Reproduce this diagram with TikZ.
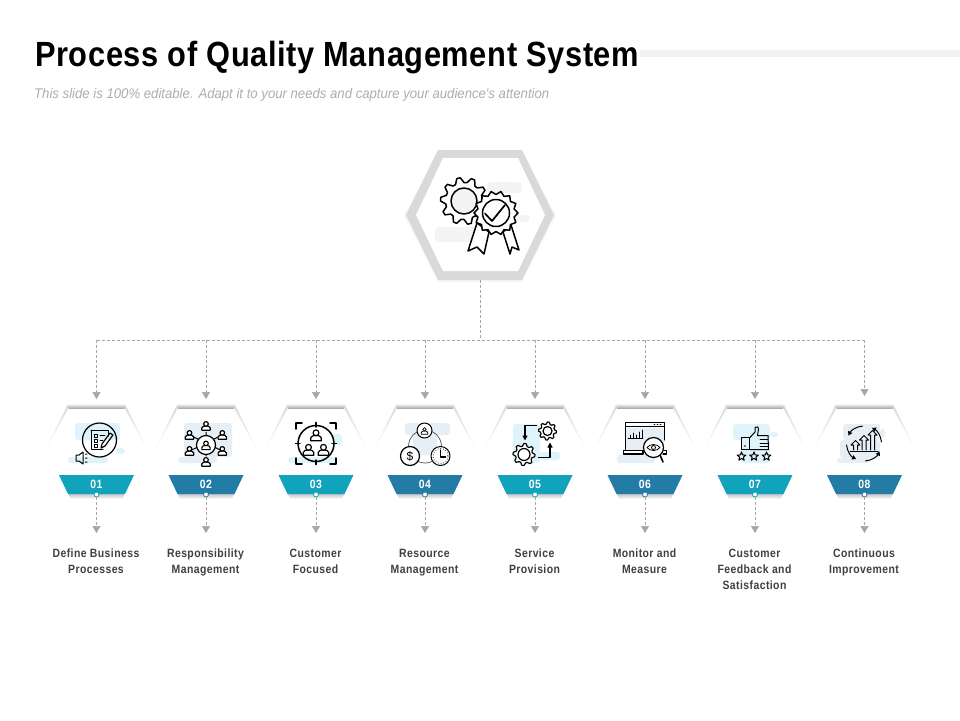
\documentclass[tikz,border=0pt]{standalone}
\usepackage{fontspec}
\setmainfont{Liberation Sans}
\newfontfamily\condf[FakeStretch=0.87,LetterSpace=3.5]{Liberation Sans}
\newfontfamily\titlef[FakeStretch=0.88,LetterSpace=1.7]{Liberation Sans}
\newfontfamily\subf[FakeStretch=0.94]{Liberation Sans}
\usetikzlibrary{arrows.meta}
\definecolor{teal1}{HTML}{12A3BC}
\definecolor{blue1}{HTML}{237CA5}
\definecolor{palec}{HTML}{DFF4FA}
\definecolor{paleb}{HTML}{E6EFF6}
\definecolor{paleg}{HTML}{F4F4F4}
\definecolor{dashc}{HTML}{A6A6A6}
\tikzset{
  ic/.style={draw=black,line width=1.2pt,line join=round,line cap=round},
  thinic/.style={draw=black,line width=.8pt,line join=round,line cap=round},
  link/.style={draw=dashc,line width=.7pt,dash pattern=on 3pt off 2pt},
  linkarrow/.style={link,-{Triangle[width=8pt,length=7pt,fill=dashc,color=dashc]}},
  lbl/.style={font=\condf\bfseries\fontsize{12}{16}\selectfont,align=center,text=black!75,inner sep=0pt,anchor=north},
  num/.style={font=\condf\bfseries\fontsize{12}{12}\selectfont,text=white,inner sep=0pt},
  blotc/.style={fill=palec,draw=none,rounded corners=3pt},
  blotb/.style={fill=paleb,draw=none,rounded corners=3pt},
  blotg/.style={fill=paleg,draw=none,rounded corners=4pt},
}
% gear: style, cx, cy, router, rinner, teeth
\newcommand\gearic[6]{\draw[#1,fill=white] plot[domain=0:4*#6,samples=4*#6+1,variable=\k]
  ({#2+(mod(round(\k),4)<2?#4:#5)*cos(\k*90/#6)},{#3+(mod(round(\k),4)<2?#4:#5)*sin(\k*90/#6)}) -- cycle;}
% rosette: style, cx, cy, router, rinner, points
\newcommand\rosic[6]{\draw[#1,fill=white] plot[domain=0:2*#6,samples=2*#6+1,variable=\k]
  ({#2+(mod(round(\k),2)<1?#4:#5)*cos(\k*180/#6)},{#3+(mod(round(\k),2)<1?#4:#5)*sin(\k*180/#6)}) -- cycle;}
% person: style, x, y, size
\newcommand\personic[4]{\draw[#1,fill=white] (#2-.95*#4,#3+.95*#4) -- (#2-.95*#4,#3+.45*#4) .. controls (#2-.85*#4,#3-.2*#4) and (#2+.85*#4,#3-.2*#4) .. (#2+.95*#4,#3+.45*#4) -- (#2+.95*#4,#3+.95*#4) -- cycle;
  \draw[#1,fill=white] (#2,#3-.48*#4) circle (.52*#4);}
% star: style, x, y, r
\newcommand\staric[4]{\draw[#1] plot[domain=0:10,samples=11,variable=\k]
  ({#2+(mod(round(\k),2)<1?#4:.42*#4)*cos(\k*36-90)},{#3+(mod(round(\k),2)<1?#4:.42*#4)*sin(\k*36-90)}) -- cycle;}
\begin{document}
\begin{tikzpicture}[x=1pt,y=-1pt]
\useasboundingbox (0,0) rectangle (960,720);
\fill[white] (0,0) rectangle (960,720);
% header
\fill[black!5] (640,50) rectangle (960,57);
\node[anchor=base west,inner sep=0pt] (title) at (35,66) {\titlef\bfseries\fontsize{35}{38}\selectfont Process of Quality Management System};
\node[anchor=base west,inner sep=0pt,text=black!32] (subtitle) at (34,98.5) {\subf\itshape\fontsize{14}{16}\selectfont This slide is 100\% editable. Adapt it to your needs and capture your audience's attention};
% big hexagon
\fill[black!3] (438,152) -- (522,152) -- (556,216) -- (522,282) -- (438,282) -- (404,216) -- cycle;
\fill[black!15] (438,150) -- (522,150) -- (554,215) -- (522,280) -- (438,280) -- (406,215) -- cycle;
\fill[white] (443,158) -- (518,158) -- (545,215) -- (518,271) -- (443,271) -- (416,215) -- cycle;
\fill[blotg] (487,182) rectangle (522,193);
\fill[blotg] (435,227) rectangle (483,242);
\fill[blotg] (503,215) rectangle (530,222);
% big icon
\gearic{ic,line width=1.5pt}{464}{201}{23.5}{18.5}{10}
\fill[paleg] (464,201) circle (13);
\draw[ic,line width=1.5pt] (464,201) circle (13);
\draw[ic,line width=1.5pt,fill=white] (477,223) -- (468,251) -- (477,247) -- (484,254) -- (489,232) -- cycle;
\draw[ic,line width=1.5pt,fill=white] (503,232) -- (510,254) -- (512,247) -- (519,250) -- (511,225) -- cycle;
\rosic{ic,line width=1.5pt}{496}{213}{22}{18.5}{14}
\draw[ic,line width=1.5pt] (496,213) circle (13.5);
\draw[ic,line width=1.7pt] (485,213.5) -- (492,221) -- (505,205);
% connectors
\coordinate (hub) at (480,280);
\coordinate (busc) at (480,340);
\foreach \i/\x/\yy in {1/96.5/399,2/206/399,3/316/399,4/425/399,5/535/399,6/645/399,7/755/399,8/864.5/396}{
  \coordinate (bus\i) at (\x,340);
  \coordinate (in\i) at (\x,\yy);
}
\draw[link] (hub) -- (busc);
\draw[link] (bus1) -- (bus8);
\foreach \i in {1,...,8}{\draw[linkarrow] (bus\i) -- (in\i);}
% small hexes
\foreach \i/\x/\n/\col/\txt in {
 1/96.5/01/teal1/{Define Business\\Processes},
 2/206/02/blue1/{Responsibility\\Management},
 3/316/03/teal1/{Customer\\Focused},
 4/425/04/blue1/{Resource\\Management},
 5/535/05/teal1/{Service\\Provision},
 6/645/06/blue1/{Monitor and\\Measure},
 7/755/07/teal1/{Customer\\Feedback and\\Satisfaction},
 8/864.5/08/blue1/{Continuous\\Improvement}}{
  \begin{scope}[shift={(\x,0)}]
    \shade[top color=black!15,bottom color=white] (-29,405) -- (29,405) -- (51,449) -- (-51,449) -- cycle;
    \fill[white] (-28,408) -- (28,408) -- (50,449) -- (28,493) -- (-28,493) -- (-50,449) -- cycle;
    \shade[top color=white,bottom color=black!32] (-28,403.5) rectangle (28,408);
    \shade[top color=black!22,bottom color=white] (-28,494) -- (28,494) -- (26,499) -- (-26,499) -- cycle;
    \fill[\col] (-37.5,475) -- (37.5,475) -- (28.5,494) -- (-28.5,494) -- cycle;
    \node[num] (num\i) at (0,484) {\n};
    \node[circle,draw=\col,fill=white,line width=.8pt,minimum size=5pt,inner sep=0pt] (dot\i) at (0,494.5) {};
    \coordinate (out\i) at (0,533);
    \node[lbl] (lab\i) at (-.5,546.5) {\rule{0pt}{11pt}\txt};
  \end{scope}
  \draw[linkarrow] (dot\i) -- (out\i);
}
% icon 1
\fill[blotc] (75,423) rectangle (120,440);
\fill[blotc] (68,457) rectangle (108,463);
\fill[blotc] (116,448) rectangle (125,454);
\draw[ic] (99.5,440) circle (17);
\draw[thinic,line width=1pt] (91,430) -- (108,430) -- (108,436) (91,430) -- (91,449) -- (103,449);
\draw[thinic] (94,434) rectangle (97,437) (94,439) rectangle (97,442) (94,444) rectangle (97,447) (100,435) -- (105,435) (100,440) -- (103,440);
\draw[thinic,line width=1.2pt] (102,444) -- (110,433) -- (113,435) -- (105,446) -- (101,448) -- cycle;
\draw[thinic,line width=1pt] (76,455) -- (79,455) -- (83,452) -- (83,464) -- (79,461) -- (76,461) -- cycle (85.5,454) -- (87,454) (85.5,458) -- (87,458) (85.5,462) -- (87,462);
% icon 2
\fill[blotb] (184,423) rectangle (232,457);
\fill[blotb] (178,457) rectangle (217,463);
\draw[thinic,line width=1pt] (206,432) -- (206,456) (189.5,435) -- (222.3,451) (222.3,435) -- (189.5,451);
\draw[ic,fill=white] (206,445) circle (9.5);
\personic{thinic,line width=1.1pt}{206}{445.5}{4.4}
\personic{ic}{206}{426}{4.4}
\personic{ic}{222.3}{435}{4.4}
\personic{ic}{222.3}{451}{4.4}
\personic{ic}{206}{462}{4.4}
\personic{ic}{189.5}{451}{4.4}
\personic{ic}{189.5}{435}{4.4}
% icon 3
\fill[blotc] (332,434) rectangle (342,445);
\fill[blotc] (288,457) rectangle (337,463);
\draw[ic,line width=1.5pt] (316,443.5) circle (18);
\draw[ic,line width=1.5pt] (316,422.5) -- (316,427) (316,460) -- (316,464.5) (295.5,443.5) -- (300,443.5) (332,443.5) -- (336.5,443.5);
\draw[ic,line width=1.5pt] (296,429) -- (296,423) -- (302,423) (330,423) -- (336,423) -- (336,429) (296,458) -- (296,464) -- (302,464) (330,464) -- (336,464) -- (336,458);
\personic{ic}{316}{435.5}{5.6}
\personic{ic}{308.5}{450}{5.6}
\personic{ic}{323.5}{450}{5.6}
% icon 4
\fill[blotb] (405,423) rectangle (450,435);
\fill[blotb] (413,435) rectangle (437,455);
\draw[black!70,line width=.7pt] (425,446.5) circle (16.5);
\draw[ic,line width=1pt,fill=white] (424.5,430.5) circle (7.5);
\personic{thinic}{424.5}{431}{3.4}
\draw[ic,fill=white] (410,456) circle (9.5);
\node[inner sep=0pt,font=\fontsize{12}{12}\selectfont] (dollar) at (410,456) {\$};
\draw[ic,line width=1pt,fill=white] (440.5,456) circle (9.5);
\draw[black,line width=.7pt,dotted] (440.5,456) circle (7.5);
\draw[ic] (440.5,450) -- (440.5,457) -- (445.5,457);
% icon 5
\fill[blotc] (513,424) rectangle (540,463);
\fill[blotc] (540,452) rectangle (560,460);
\gearic{ic}{547.5}{431}{9}{7}{8}
\draw[ic] (547.5,431) circle (4.5);
\gearic{ic}{524}{454.5}{11}{8.5}{8}
\draw[ic] (524,454.5) circle (6);
\draw[ic,-{Triangle[width=5pt,length=5pt]}] (536.5,425.5) -- (525,425.5) -- (525,440.5);
\draw[ic,-{Triangle[width=5pt,length=5pt]}] (538.5,457.5) -- (550,457.5) -- (550,442.5);
% icon 6
\fill[blotb] (626,428) rectangle (664,450);
\fill[blotb] (617,455) rectangle (655,463);
\draw[thinic,line width=1pt] (625.5,450) -- (625.5,422.5) -- (664,422.5) -- (664,440);
\draw[thinic,line width=1.2pt] (625.5,426.5) -- (664,426.5);
\draw[thinic] (654,424.5) -- (655,424.5) (657,424.5) -- (658,424.5) (660,424.5) -- (661,424.5);
\draw[thinic] (630,438) -- (630,435) (633,438) -- (633,433) (636,438) -- (636,435) (639,438) -- (639,432) (642,438) -- (642,430) (628,438.5) -- (643,438.5);
\draw[ic] (623.5,450.5) -- (643,450.5) -- (643,454) -- (623.5,454) -- cycle (664,450.5) -- (666.5,450.5) -- (666.5,454) -- (663,454);
\draw[ic,line width=1.6pt] (660,455) -- (663,462);
\draw[ic,fill=white] (653.5,447.5) circle (10);
\draw[thinic] (647,447.5) .. controls (650,443.5) and (657,443.5) .. (660,447.5) .. controls (657,451.5) and (650,451.5) .. (647,447.5) -- cycle;
\draw[thinic] (653.5,447.5) circle (2);
% icon 7
\fill[blotc] (733,424) rectangle (770,440);
\fill[blotc] (770,432) rectangle (778,437);
\fill[blotc] (741,440) rectangle (770,463);
\draw[thinic,line width=1pt] (741.5,437) rectangle (749.5,449.5);
\fill (745,446) circle (.9);
\draw[thinic,line width=1pt] (749.5,438) -- (755,432) -- (755,427.5) .. controls (757,425.5) and (759,427) .. (758.5,429) -- (757.5,435.5) -- (768,435.5) -- (768.5,449.5) -- (749.5,449.5);
\draw[thinic,line width=.8pt] (760,439.5) -- (768,439.5) (760,443) -- (768,443) (760,446.5) -- (768,446.5);
\staric{thinic,line width=1pt}{741.5}{456.5}{4.6}
\staric{thinic,line width=1pt}{754}{456.5}{4.6}
\staric{thinic,line width=1pt}{766.5}{456.5}{4.6}
% icon 8
\fill[blotb] (843,424) rectangle (880,440);
\fill[blotb] (837,458) rectangle (870,463);
\fill[blotb] (880,429) rectangle (885,437);
\fill[blotb] (840,440) rectangle (880,458);
\foreach \a/\b in {-75/-5,15/85,105/175,195/265}{
  \draw[thinic,line width=1pt,-{Triangle[width=4.5pt,length=4pt]}] ({864+17.5*cos(\b)},{443.5+17.5*sin(\b)}) arc[start angle=\b,end angle=\a+12,radius=17.5];
}
\draw[thinic,line width=1pt] (850,451.5) -- (878,451.5);
\draw[thinic,line width=1pt] (853.5,450) -- (853.5,445) -- (851,445) -- (855.5,440.5) -- (860,445) -- (857.5,445) -- (857.5,450);
\draw[thinic,line width=1pt] (862,450) -- (862,440) -- (859.5,440) -- (864,435.5) -- (868.5,440) -- (866,440) -- (866,450);
\draw[thinic,line width=1pt] (870.5,450) -- (870.5,435) -- (868,435) -- (872.5,430.5) -- (877,435) -- (874.5,435) -- (874.5,450);
\end{tikzpicture}
\end{document}
